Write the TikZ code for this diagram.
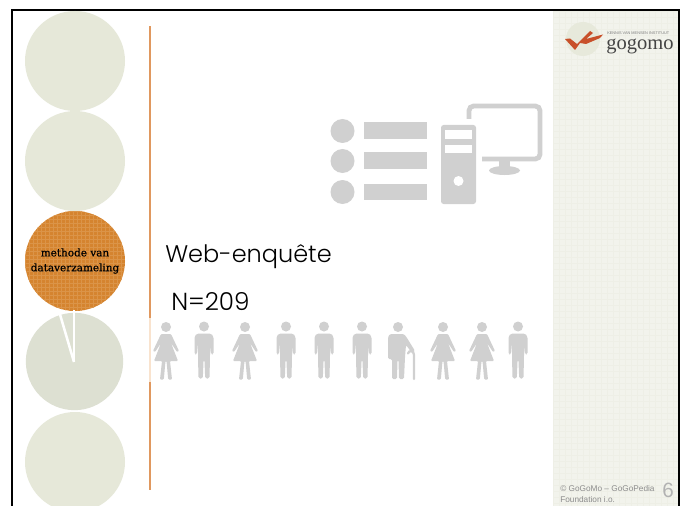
\documentclass[tikz,border=0pt]{standalone}
\usepackage{fontspec}
\setmainfont{Liberation Serif}
\newfontfamily\titlefont[UprightFont=* Light]{Poppins}
\newfontfamily\footfont{Liberation Sans}
\newfontfamily\circlefont[FakeBold=0.6]{DejaVu Serif}
\definecolor{panelbg}{HTML}{F2F3EC}
\definecolor{panelgrid}{HTML}{EEEFE6}
\definecolor{circbg}{HTML}{E6E8D9}
\definecolor{piebg}{HTML}{DDE0D2}
\definecolor{orangebg}{HTML}{D5842F}
\definecolor{orangegrid}{HTML}{DB9448}
\definecolor{rulecol}{HTML}{E0985F}
\definecolor{rulelight}{HTML}{F9E3CE}
\definecolor{icon}{HTML}{D0D0D0}
\definecolor{logored}{HTML}{C8502A}
\definecolor{logotext}{HTML}{444444}
\tikzset{
  x=0.75pt,y=-0.75pt,
  bigcircle/.style={circle,fill=circbg,minimum size=75pt,inner sep=0pt,draw=none},
  iconbar/.style={fill=icon,draw=none},
  femalefig/.pic={
    \fill[icon] (0,-46) circle (5);
    \fill[icon,rounded corners=0.7] (-5,-39) -- (5,-39) -- (13,-22) -- (11,-21) -- (5,-30) -- (12,-12) -- (4,-12) -- (6,6.5) -- (2.2,6.5) -- (0.5,-12) -- (-0.5,-12) -- (-2.2,6.5) -- (-6,6.5) -- (-4,-12) -- (-12,-12) -- (-5,-30) -- (-11,-21) -- (-13,-22) -- cycle;
  },
  malefig/.pic={
    \fill[icon] (0,-46) circle (5);
    \fill[icon,rounded corners=1.2] (-7,-39) -- (7,-39) -- (9.5,-36) -- (9.5,-18) -- (7,-18) -- (6,-30) -- (6,-16) -- (5.5,6) -- (1.2,6) -- (0.4,-13) -- (-0.4,-13) -- (-1.2,6) -- (-5.5,6) -- (-6,-16) -- (-6,-30) -- (-7,-18) -- (-9.5,-18) -- (-9.5,-36) -- cycle;
  },
  elderfig/.pic={
    \fill[icon] (0,-46) circle (5);
    \fill[icon,rounded corners=1] (-8,-39) -- (6,-39) -- (9,-35) -- (17,-22) -- (14,-20) -- (8,-28) -- (7,-16) -- (6,6) -- (1,6) -- (0.5,-13) -- (-0.5,-13) -- (-1,6) -- (-6,6) -- (-6,-14) -- (-10,-14) -- (-10,-36) -- cycle;
    \draw[icon,line width=1.7pt,line cap=round] (10,-19.5) to[out=70,in=180] (13,-22) to[out=0,in=90] (16,-18) -- (16,6);
  }
}
\begin{document}
\begin{tikzpicture}
\useasboundingbox (0,0) rectangle (688,506);
\begin{scope}
\clip (0,0) rectangle (688,506);
\fill[white] (0,0) rectangle (688,506);
% panel
\fill[panelbg] (553,11) rectangle (678,506);
\foreach \i in {0,...,82} {\draw[panelgrid,line width=0.3pt] (553,{11+6*\i}) -- (678,{11+6*\i});}
\foreach \i in {0,...,20} {\draw[panelgrid,line width=0.3pt] ({553+6*\i},11) -- ({553+6*\i},506);}
% frame
\draw[black,line width=2.2pt] (12,520) -- (12,10) -- (679,10) -- (679,520);
% circles
\node[bigcircle] (c1) at (75,61) {};
\node[bigcircle] (c2) at (75,161) {};
\node[bigcircle,fill=orangebg] (c3) at (75,261) {};
\begin{scope}
\clip (75,261) circle (50);
\foreach \i in {0,...,25} {
  \draw[orangegrid,line width=0.6pt] ({25+4*\i},211) -- ({25+4*\i},311);
  \draw[orangegrid,line width=0.6pt] (25,{211+4*\i}) -- (125,{211+4*\i});
}
\end{scope}
\node[font=\circlefont\fontsize{7.85pt}{11.2pt}\selectfont,align=center,text=black,inner sep=0pt] (c3label) at (75,261) {methode van\\dataverzameling};
\node[circle,fill=piebg,minimum size=73pt,inner sep=0pt] (c4) at (74.5,361.5) {};
\draw[white,line width=1.9pt] (74,362) -- (59,311);
\draw[white,line width=2.2pt] (74,362) -- (74,310);
\node[bigcircle] (c5) at (75,462) {};
% rule
\fill[rulecol] (149,26) rectangle (151,318);
\fill[rulelight] (149,318) rectangle (151,382);
\fill[rulecol] (149,382) rectangle (151,490);
% computer
\foreach \y in {131,161,192} {
  \fill[icon] (342.5,\y) circle (12);
  \fill[iconbar] (364,{\y-8.5}) rectangle (427,{\y+8});
}
\fill[icon,rounded corners=2] (441,125) rectangle (476,204);
\fill[white] (445,130) rectangle (472,139);
\fill[white] (445,145) rectangle (472,153);
\fill[white] (458.5,181) circle (5);
\draw[icon,line width=3.6pt,rounded corners=3.5] (469,119) -- (469,106) -- (540,106) -- (540,159) -- (482,159);
\fill[icon] (499,159) -- (510,159) -- (510,168) -- (499,168) -- cycle;
\fill[icon] (504.5,170.5) ellipse (15.5 and 4.5);
% people
\foreach \x in {166,245,443,482} {\pic at (\x,373) {femalefig};}
\foreach \x in {204,286,324,362,518} {\pic at (\x,372.5) {malefig};}
\pic at (398,373) {elderfig};
% main text
\node[anchor=base west,inner sep=0pt,font=\titlefont\fontsize{18pt}{22pt}\selectfont,text=black] (title) at (165,262) {Web-enquête};
\node[anchor=base west,inner sep=0pt,font=\titlefont\fontsize{18.5pt}{22pt}\selectfont,text=black] (count) at (171,310) {N=209};
% logo
\fill[circbg!90!panelbg] (583,39) circle (17);
\fill[logored] (565,39) -- (570,38.5) -- (577,44) -- (590,31) -- (593,33) -- (586,39) -- (603,34.5) -- (600,38) -- (586,44) -- (580,43) -- (575,50) -- cycle;
\node[anchor=base west,inner sep=0pt,font=\fontsize{15.4pt}{16pt}\selectfont,text=logotext] (logo) at (606,50) {gogomo};
\node[anchor=base west,inner sep=0pt,font=\footfont\fontsize{2.9pt}{3pt}\selectfont,text=logotext!70] (logosub) at (607,34.5) {KENNIS VAN MENSEN INSTITUUT};
% footer
\node[anchor=base west,inner sep=0pt,font=\footfont\fontsize{6.2pt}{7pt}\selectfont,text=black!45] (foot1) at (560,491.5) {© GoGoMo – GoGoPedia};
\node[anchor=base west,inner sep=0pt,font=\footfont\fontsize{6.2pt}{7pt}\selectfont,text=black!45] (foot2) at (560,502.5) {Foundation i.o.};
\node[anchor=base east,inner sep=0pt,font=\footfont\fontsize{15.5pt}{16pt}\selectfont,text=black!30] (pagenum) at (674,497) {6};
\end{scope}
\end{tikzpicture}
\end{document}
